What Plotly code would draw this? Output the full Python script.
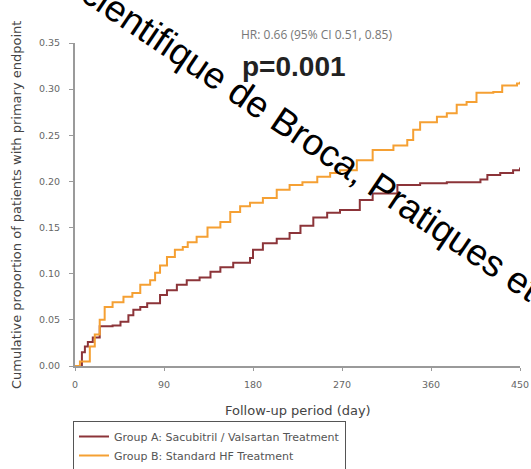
import plotly.graph_objects as go

# Follow-up days and cumulative event proportions for each arm
days_a = [0, 2, 7, 10, 13, 18, 25, 38, 46, 54, 59, 66, 73, 86, 93, 103, 113, 126, 137, 147,
          160, 177, 180, 190, 204, 217, 228, 241, 255, 268, 288, 301, 326, 349, 376, 410,
          417, 430, 443, 450]
prop_a = [0.000, 0.000, 0.015, 0.021, 0.026, 0.031, 0.043, 0.044, 0.048, 0.055, 0.061, 0.064,
          0.068, 0.077, 0.082, 0.088, 0.093, 0.096, 0.102, 0.107, 0.112, 0.117, 0.126, 0.133,
          0.138, 0.144, 0.152, 0.161, 0.166, 0.169, 0.180, 0.187, 0.196, 0.198, 0.199, 0.202,
          0.207, 0.209, 0.212, 0.215]

days_b = [0, 5, 15, 20, 25, 30, 38, 49, 58, 66, 76, 81, 86, 93, 101, 109, 114, 123, 134, 147,
          157, 167, 177, 190, 204, 217, 230, 245, 258, 268, 285, 301, 322, 336, 342, 349, 366,
          376, 386, 396, 406, 423, 432, 447, 450]
prop_b = [0.000, 0.005, 0.021, 0.034, 0.050, 0.064, 0.069, 0.075, 0.079, 0.088, 0.093, 0.101,
          0.109, 0.118, 0.126, 0.129, 0.134, 0.140, 0.150, 0.156, 0.167, 0.173, 0.177, 0.182,
          0.191, 0.196, 0.199, 0.205, 0.209, 0.212, 0.223, 0.234, 0.239, 0.245, 0.256, 0.264,
          0.270, 0.274, 0.283, 0.286, 0.296, 0.297, 0.304, 0.306, 0.308]

name_a = "Group A: Sacubitril / Valsartan Treatment"
name_b = "Group B: Standard HF Treatment"
x_ticks = [0, 90, 180, 270, 360, 450]
y_ticks = [0.00, 0.05, 0.10, 0.15, 0.20, 0.25, 0.30, 0.35]

color_a = "#8c3439"
color_b = "#f5a033"
axis_color = "#9a9a9a"
sans = "DejaVu Sans, sans-serif"
tick_font = dict(family=sans, size=9.5, color="#666666")

W, H = 531, 469
L, R, T, B = 75, 11, 43, 103


def px_to_paper(px, py):
    """Convert a page pixel position into paper coordinates of the plot area."""
    return (px - L) / (W - L - R), (H - B - py) / (H - T - B)


fig = go.Figure()
fig.add_trace(go.Scatter(x=days_a, y=prop_a, mode="lines", name=name_a,
                         line=dict(color=color_a, width=2, shape="hv")))
fig.add_trace(go.Scatter(x=days_b, y=prop_b, mode="lines", name=name_b,
                         line=dict(color=color_b, width=2, shape="hv")))

fig.update_layout(
    width=W, height=H,
    margin=dict(l=L, r=R, t=T, b=B, autoexpand=False),
    paper_bgcolor="white", plot_bgcolor="white",
    showlegend=True,
    legend=dict(xref="container", yref="container",
                x=73 / W, y=1 - 421 / H, xanchor="left", yanchor="top",
                bordercolor="#555555", borderwidth=1, bgcolor="white",
                font=dict(family=sans, size=11, color="#555555"),
                tracegroupgap=0, itemwidth=30),
    xaxis=dict(range=[0, 450], tickvals=x_ticks, ticktext=[str(v) for v in x_ticks],
               showgrid=False, zeroline=False, showline=True, linecolor=axis_color,
               linewidth=2, ticks="outside", ticklen=3, tickcolor=axis_color,
               tickfont=tick_font, ticklabelstandoff=6),
    yaxis=dict(range=[0, 0.35], tickvals=y_ticks, ticktext=[f"{v:.2f}" for v in y_ticks],
               showgrid=False, zeroline=False, showline=True, linecolor=axis_color,
               linewidth=2, ticks="outside", ticklen=4, tickcolor=axis_color,
               tickfont=tick_font, ticklabelstandoff=7),
)

texts = [
    ("Follow-up period (day)", 298, 410, 0, dict(family=sans, size=13, color="#444444")),
    ("Cumulative proportion of patients with primary endpoint", 16, 205, -90,
     dict(family=sans, size=13, color="#444444")),
    ("HR: 0.66 (95% CI 0.51, 0.85)", 316, 35, 0,
     dict(family="Open Sans, sans-serif", size=12, color="#777777")),
    ("<b>p=0.001</b>", 294, 66, 0,
     dict(family="Liberation Sans, Arial, sans-serif", size=28, color="#222222")),
    ("Scientifique de Broca, Pratiques et", 301, 133, 34,
     dict(family="Liberation Sans, Arial, sans-serif", size=37, color="#000000")),
]
annotations = []
for text, px, py, angle, font in texts:
    x, y = px_to_paper(px, py)
    annotations.append(dict(text=text, x=x, y=y, xref="paper", yref="paper",
                            textangle=angle, font=font, showarrow=False,
                            xanchor="center", yanchor="middle"))
fig.update_layout(annotations=annotations)

fig.write_html("out.html")
